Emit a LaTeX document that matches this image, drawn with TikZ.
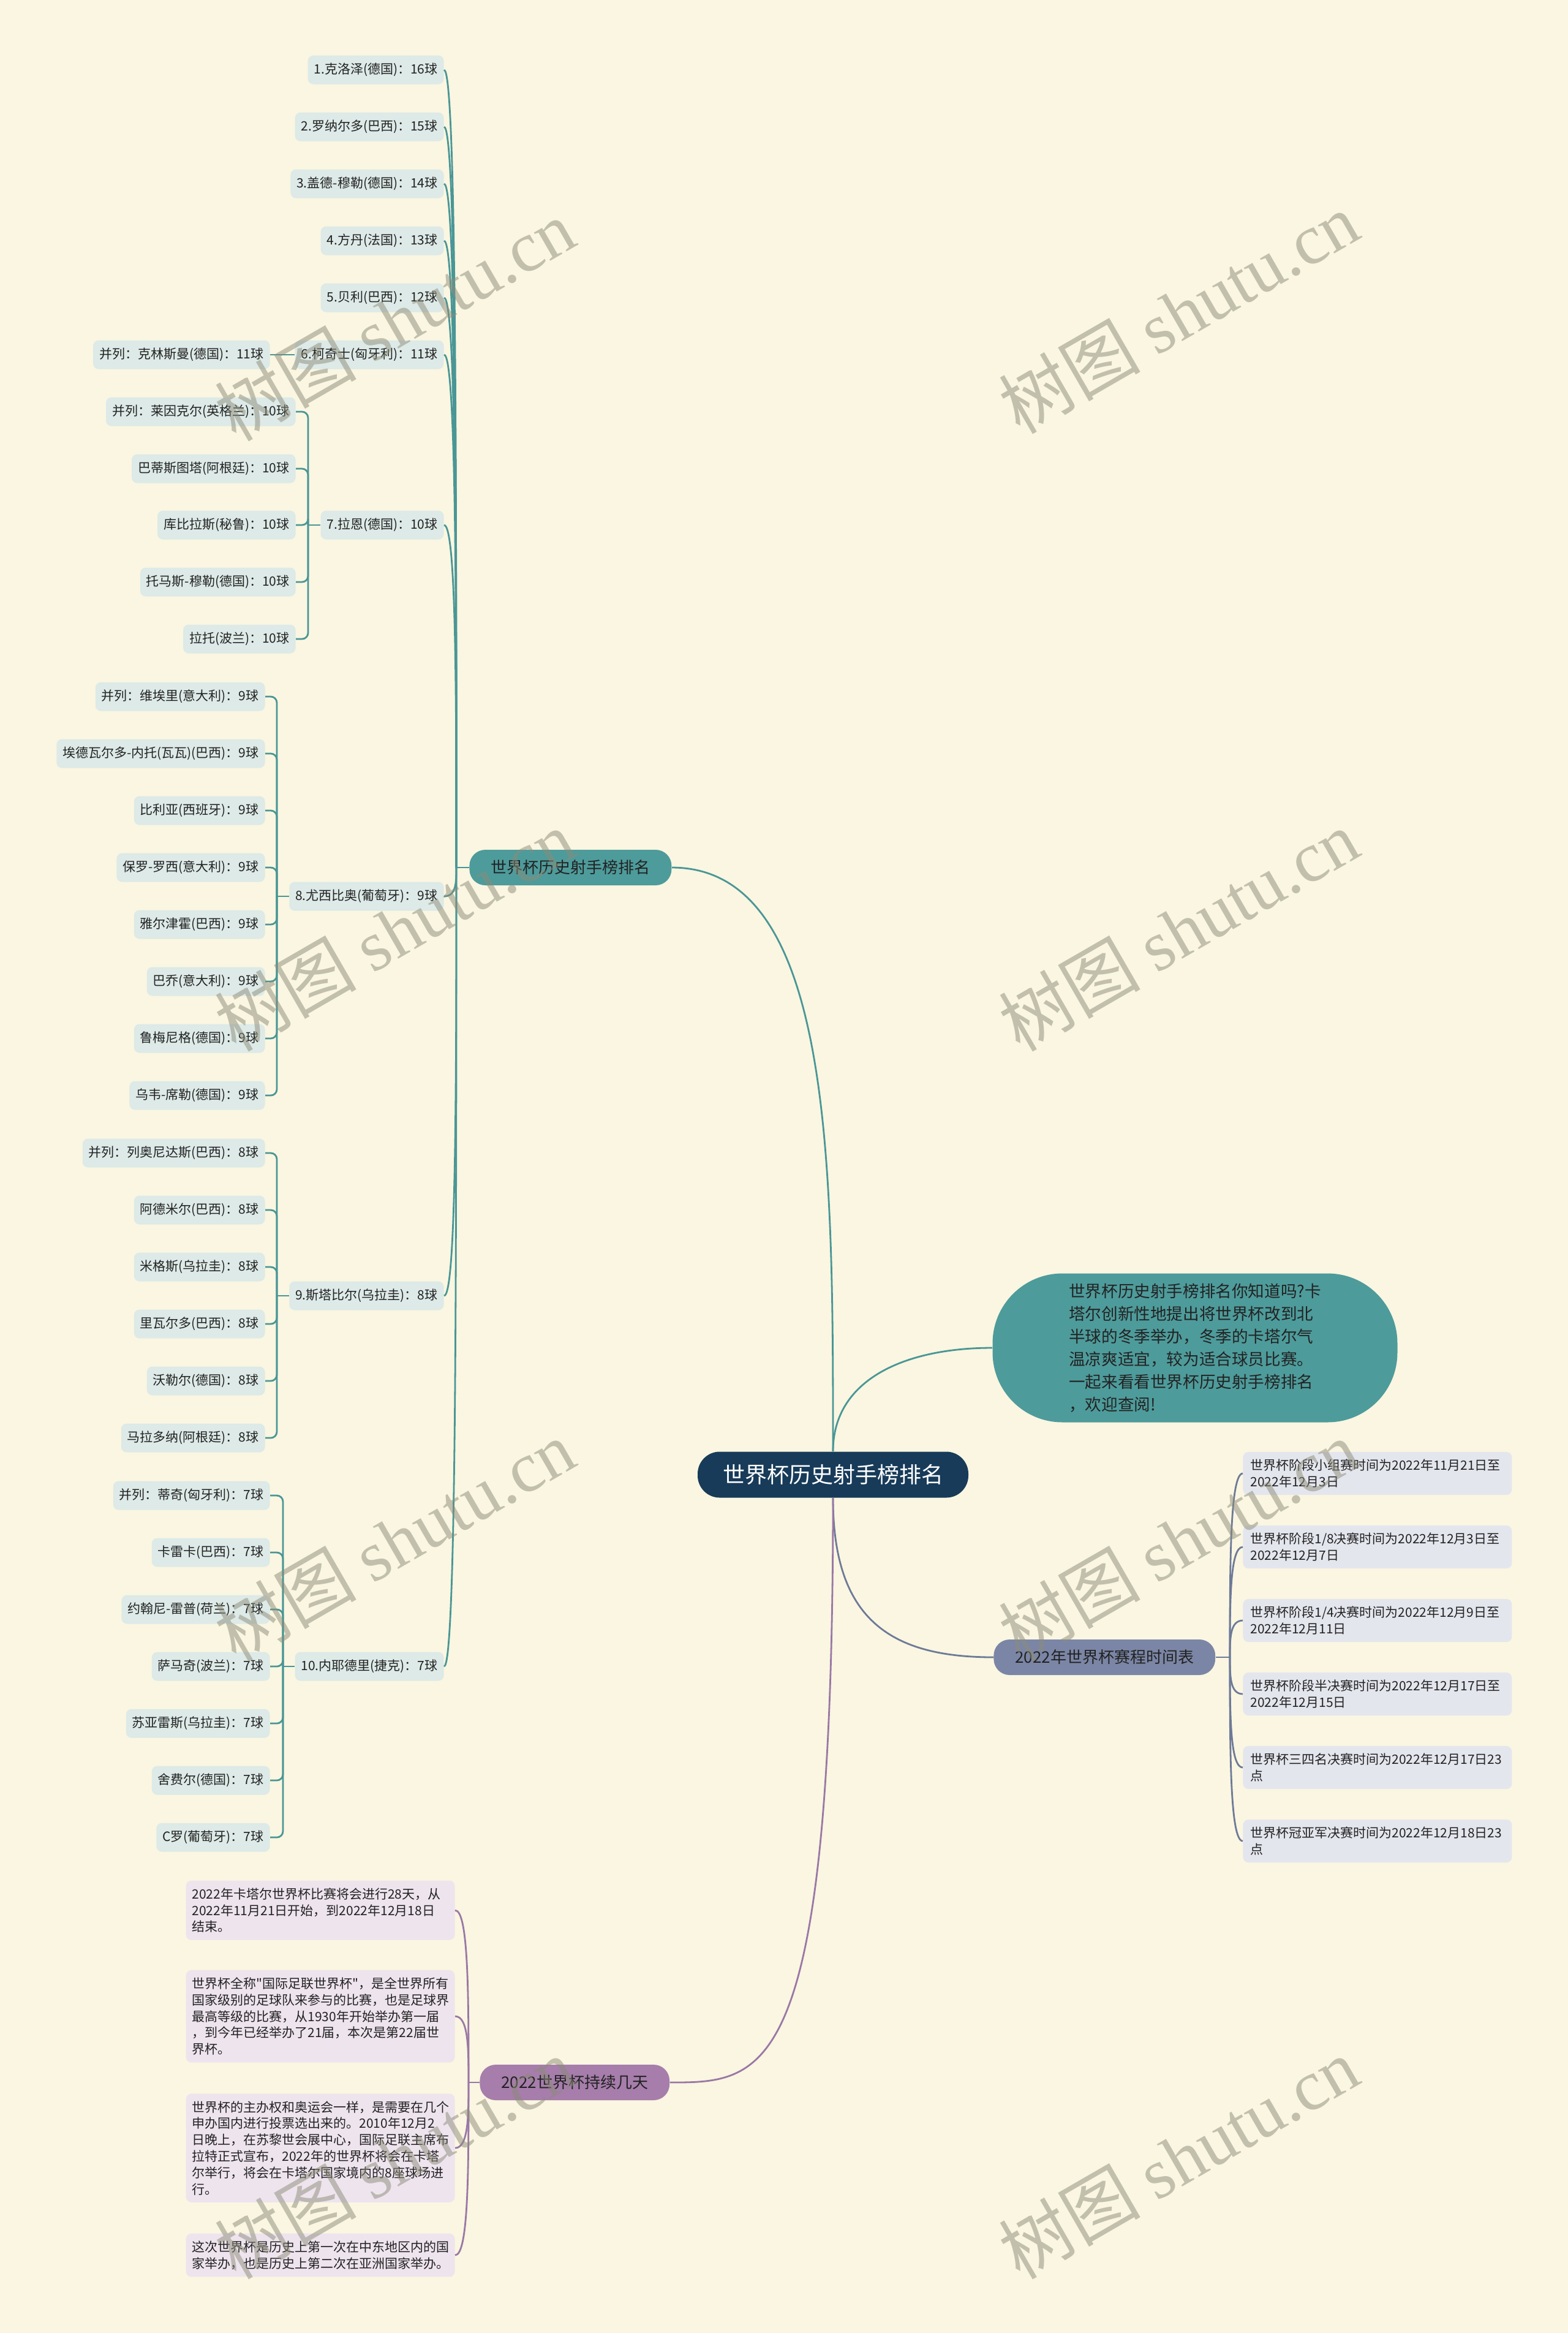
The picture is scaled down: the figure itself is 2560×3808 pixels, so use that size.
\documentclass[tikz,border=0pt]{standalone}
\usepackage{fontspec}
\setmainfont{Noto Sans CJK SC}
\newfontfamily\qfont{Noto Sans CJK SC}[Ligatures=TeXOff]
\newfontfamily\wmserif{Liberation Serif}
\usetikzlibrary{calc}
\definecolor{cbg}{HTML}{FAF6E1}
\definecolor{cleaf}{HTML}{DDEAE7}
\definecolor{cteal}{HTML}{4E9B9B}
\definecolor{ctline}{HTML}{4A9696}
\definecolor{cnavy}{HTML}{173B59}
\definecolor{csched}{HTML}{7B86A6}
\definecolor{csline}{HTML}{6E7A98}
\definecolor{csleaf}{HTML}{E4E6EE}
\definecolor{cpurp}{HTML}{A67DAB}
\definecolor{cpline}{HTML}{9A78A6}
\definecolor{cpleaf}{HTML}{EEE4EE}
\definecolor{ctxt}{HTML}{222222}
\definecolor{cwm}{HTML}{8C8C78}
\tikzset{
  leaf/.style={fill=cleaf, text=ctxt, rounded corners=4.5pt, inner xsep=5pt, inner ysep=0pt, minimum height=23.5pt, font=\fontsize{10.5}{12}\selectfont},
  sleaf/.style={fill=csleaf, text=ctxt, rounded corners=4.5pt, inner xsep=6pt, inner ysep=6pt, text width=207.5pt, align=left, font=\fontsize{10.5}{13.4}\selectfont},
  pleaf/.style={fill=cpleaf, text=ctxt, rounded corners=4.5pt, inner xsep=5pt, inner ysep=6pt, text width=209.5pt, align=left, font=\fontsize{10.5}{13.4}\selectfont},
  branch/.style={text=ctxt, rounded corners=13pt, inner xsep=17.5pt, inner ysep=0pt, minimum height=29pt, font=\fontsize{13}{15}\selectfont},
  centre/.style={fill=cnavy, text=white, rounded corners=18pt, inner xsep=20.5pt, inner ysep=0pt, minimum height=37.5pt, font=\fontsize{18}{20}\selectfont},
  intro/.style={fill=cteal, text=ctxt, rounded corners=57pt, minimum width=330.5pt, minimum height=121.5pt, inner sep=0pt, align=left, font=\fontsize{13.3}{18.5}\selectfont},
  tline/.style={draw=ctline, line width=1.4pt},
  sline/.style={draw=csline, line width=1.4pt},
  pline/.style={draw=cpline, line width=1.4pt},
  wm/.style={text=cwm, opacity=0.5, rotate=30, font=\fontsize{58}{60}\selectfont}
}
\begin{document}
\begin{tikzpicture}[x=0.5pt,y=-0.5pt]
\useasboundingbox (0,0) rectangle (2560,3808);
\fill[cbg] (0,0) rectangle (2560,3808);

% centre and branches
\node[centre] (c) at (1360,2407) {世界杯历史射手榜排名};
\node[branch, fill=cteal, anchor=west] (b1) at (766,1416) {世界杯历史射手榜排名};
\node[intro] (in) at (1951,2200) {世界杯历史射手榜排名你知道吗?卡\\塔尔创新性地提出将世界杯改到北\\半球的冬季举办，冬季的卡塔尔气\\温凉爽适宜，较为适合球员比赛。\\一起来看看世界杯历史射手榜排名\\，欢迎查阅!};
\node[branch, fill=csched, anchor=west] (b2) at (1622,2705) {2022年世界杯赛程时间表};
\node[branch, fill=cpurp, anchor=west] (b3) at (783,3399) {2022世界杯持续几天};

% main connectors
\draw[tline] (b1.east) .. controls (1360,1416) and (1360,1900) .. (c.north);
\draw[tline] (c.north) .. controls (1360,2250) and (1480,2200) .. (in.west);
\draw[sline] (c.south) .. controls (1360,2640) and (1450,2705) .. (b2.west);
\draw[pline] (c.south) .. controls (1360,3399) and (1250,3399) .. (b3.east);

% players
\node[leaf, anchor=east] (p1) at (725,114) {1.克洛泽(德国)：16球};
\node[leaf, anchor=east] (p2) at (725,207) {2.罗纳尔多(巴西)：15球};
\node[leaf, anchor=east] (p3) at (725,300) {3.盖德-穆勒(德国)：14球};
\node[leaf, anchor=east] (p4) at (725,393) {4.方丹(法国)：13球};
\node[leaf, anchor=east] (p5) at (725,486) {5.贝利(巴西)：12球};
\node[leaf, anchor=east] (p6) at (725,579) {6.柯奇士(匈牙利)：11球};
\node[leaf, anchor=east] (p7) at (725,857) {7.拉恩(德国)：10球};
\node[leaf, anchor=east] (p8) at (725,1463) {8.尤西比奥(葡萄牙)：9球};
\node[leaf, anchor=east] (p9) at (725,2115) {9.斯塔比尔(乌拉圭)：8球};
\node[leaf, anchor=east] (p10) at (725,2720) {10.内耶德里(捷克)：7球};

\node[leaf, anchor=east] (p6a) at (441,579) {并列：克林斯曼(德国)：11球};

\node[leaf, anchor=east] (p7a) at (483,672) {并列：莱因克尔(英格兰)：10球};
\node[leaf, anchor=east] (p7b) at (483,765) {巴蒂斯图塔(阿根廷)：10球};
\node[leaf, anchor=east] (p7c) at (483,857) {库比拉斯(秘鲁)：10球};
\node[leaf, anchor=east] (p7d) at (483,950) {托马斯-穆勒(德国)：10球};
\node[leaf, anchor=east] (p7e) at (483,1043) {拉托(波兰)：10球};

\node[leaf, anchor=east] (p8a) at (433,1137) {并列：维埃里(意大利)：9球};
\node[leaf, anchor=east] (p8b) at (433,1230) {埃德瓦尔多-内托(瓦瓦)(巴西)：9球};
\node[leaf, anchor=east] (p8c) at (433,1323) {比利亚(西班牙)：9球};
\node[leaf, anchor=east] (p8d) at (433,1416) {保罗-罗西(意大利)：9球};
\node[leaf, anchor=east] (p8e) at (433,1509) {雅尔津霍(巴西)：9球};
\node[leaf, anchor=east] (p8f) at (433,1602) {巴乔(意大利)：9球};
\node[leaf, anchor=east] (p8g) at (433,1695) {鲁梅尼格(德国)：9球};
\node[leaf, anchor=east] (p8h) at (433,1788) {乌韦-席勒(德国)：9球};

\node[leaf, anchor=east] (p9a) at (433,1882) {并列：列奥尼达斯(巴西)：8球};
\node[leaf, anchor=east] (p9b) at (433,1975) {阿德米尔(巴西)：8球};
\node[leaf, anchor=east] (p9c) at (433,2068) {米格斯(乌拉圭)：8球};
\node[leaf, anchor=east] (p9d) at (433,2161) {里瓦尔多(巴西)：8球};
\node[leaf, anchor=east] (p9e) at (433,2254) {沃勒尔(德国)：8球};
\node[leaf, anchor=east] (p9f) at (433,2347) {马拉多纳(阿根廷)：8球};

\node[leaf, anchor=east] (p10a) at (441,2441) {并列：蒂奇(匈牙利)：7球};
\node[leaf, anchor=east] (p10b) at (441,2534) {卡雷卡(巴西)：7球};
\node[leaf, anchor=east] (p10c) at (441,2627) {约翰尼-雷普(荷兰)：7球};
\node[leaf, anchor=east] (p10d) at (441,2720) {萨马奇(波兰)：7球};
\node[leaf, anchor=east] (p10e) at (441,2813) {苏亚雷斯(乌拉圭)：7球};
\node[leaf, anchor=east] (p10f) at (441,2906) {舍费尔(德国)：7球};
\node[leaf, anchor=east] (p10g) at (441,2999) {C罗(葡萄牙)：7球};

% player connectors
\coordinate (hA) at (745,1416);
\draw[tline] (b1.west) -- (hA);
\foreach \n/\k in {p1/-651,p2/-604,p3/-558,p4/-511,p5/-465,p6/-418,p7/-280,p8/24,p9/350,p10/652}
  \draw[tline] (\n.east) .. controls +(20,0) and +(0,\k) .. (hA);
\draw[tline] (p6a.east) -- (p6.west);
\coordinate (h7) at (503,857);
\coordinate (h8) at (452,1463);
\coordinate (h9) at (452,2115);
\coordinate (h10) at (462,2720);
\draw[tline] (p7.west) -- (h7);
\draw[tline] (p8.west) -- (h8);
\draw[tline] (p9.west) -- (h9);
\draw[tline] (p10.west) -- (h10);
\foreach \n in {p7a,p7b,p7c,p7d,p7e}
  \draw[tline, rounded corners=5pt] (\n.east) -| (h7);
\foreach \n in {p8a,p8b,p8c,p8d,p8e,p8f,p8g,p8h}
  \draw[tline, rounded corners=5pt] (\n.east) -| (h8);
\foreach \n in {p9a,p9b,p9c,p9d,p9e,p9f}
  \draw[tline, rounded corners=5pt] (\n.east) -| (h9);
\foreach \n in {p10a,p10b,p10c,p10d,p10e,p10f,p10g}
  \draw[tline, rounded corners=5pt] (\n.east) -| (h10);

% schedule
\node[sleaf, anchor=west] (s1) at (2029,2405) {世界杯阶段小组赛时间为2022年11月21日至\\2022年12月3日};
\node[sleaf, anchor=west] (s2) at (2029,2525) {世界杯阶段1/8决赛时间为2022年12月3日至\\2022年12月7日};
\node[sleaf, anchor=west] (s3) at (2029,2645) {世界杯阶段1/4决赛时间为2022年12月9日至\\2022年12月11日};
\node[sleaf, anchor=west] (s4) at (2029,2765) {世界杯阶段半决赛时间为2022年12月17日至\\2022年12月15日};
\node[sleaf, anchor=west] (s5) at (2029,2885) {世界杯三四名决赛时间为2022年12月17日23\\点};
\node[sleaf, anchor=west] (s6) at (2029,3005) {世界杯冠亚军决赛时间为2022年12月18日23\\点};
\coordinate (hS) at (2008,2705);
\draw[sline] (b2.east) -- (hS);
\foreach \n/\k in {s1/-150,s2/-90,s3/-30,s4/30,s5/90,s6/150}
  \draw[sline] (\n.west) .. controls +(-21,0) and +(0,\k) .. (hS);

% duration
\node[pleaf, anchor=east] (q1) at (743,3118) {2022年卡塔尔世界杯比赛将会进行28天，从\\2022年11月21日开始，到2022年12月18日\\结束。};
\node[pleaf, anchor=east] (q2) at (743,3291) {世界杯全称{\qfont"}国际足联世界杯{\qfont"}，是全世界所有\\国家级别的足球队来参与的比赛，也是足球界\\最高等级的比赛，从1930年开始举办第一届\\，到今年已经举办了21届，本次是第22届世\\界杯。};
\node[pleaf, anchor=east] (q3) at (743,3506) {世界杯的主办权和奥运会一样，是需要在几个\\申办国内进行投票选出来的。2010年12月2\\日晚上，在苏黎世会展中心，国际足联主席布\\拉特正式宣布，2022年的世界杯将会在卡塔\\尔举行，将会在卡塔尔国家境内的8座球场进\\行。};
\node[pleaf, anchor=east] (q4) at (743,3681) {这次世界杯是历史上第一次在中东地区内的国\\家举办，也是历史上第二次在亚洲国家举办。};
\coordinate (hP) at (765,3399);
\draw[pline] (b3.west) -- (hP);
\foreach \n/\k in {q1/-140,q2/-54,q3/53,q4/141}
  \draw[pline] (\n.east) .. controls +(22,0) and +(0,\k) .. (hP);

% watermarks
\foreach \i/\x/\y in {1/644/522,2/1924/510,3/644/1518,4/1924/1518,5/644/2514,6/1924/2514,7/644/3522,8/1924/3522}
  \node[wm] (wm\i) at (\x,\y) {树图 {\wmserif shutu.cn}};
\end{tikzpicture}
\end{document}
